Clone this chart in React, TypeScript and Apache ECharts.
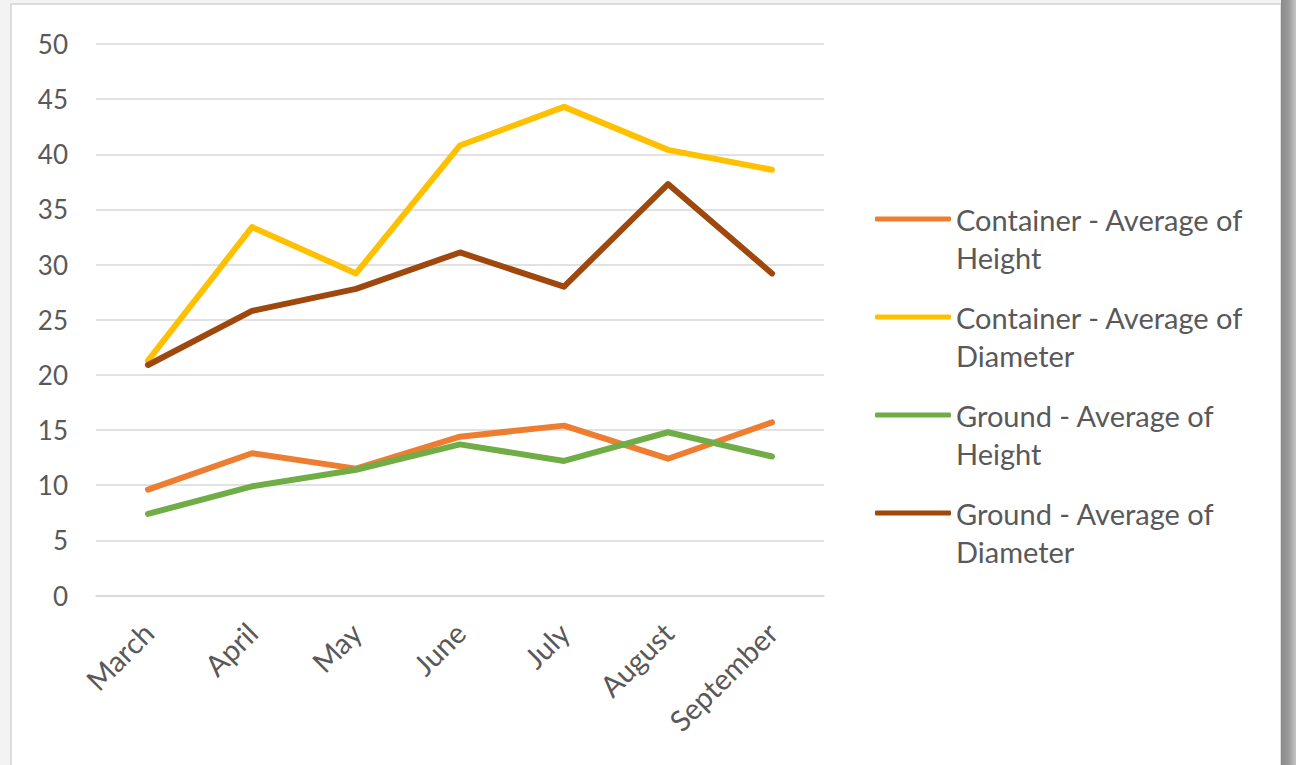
import React, { useEffect, useRef } from "react";
import * as echarts from "echarts";

const months = ["March", "April", "May", "June", "July", "August", "September"];
const containerHeight = [9.6, 12.9, 11.5, 14.4, 15.4, 12.4, 15.7];
const containerDiameter = [21.3, 33.4, 29.2, 40.8, 44.3, 40.4, 38.6];
const groundHeight = [7.4, 9.9, 11.4, 13.7, 12.2, 14.8, 12.6];
const groundDiameter = [20.9, 25.8, 27.8, 31.1, 28.0, 37.3, 29.2];

const seriesNames = [
  "Container - Average of Height",
  "Container - Average of Diameter",
  "Ground - Average of Height",
  "Ground - Average of Diameter",
];
const seriesColors = ["#ED7D31", "#FFC000", "#70AD47", "#9E480E"];
const seriesData = [containerHeight, containerDiameter, groundHeight, groundDiameter];

const FONT = "Lato";

export default function App() {
  const ref = useRef<HTMLDivElement>(null);
  useEffect(() => {
    if (!ref.current) return;
    const chart = echarts.init(ref.current, undefined, { renderer: "svg" });
    chart.setOption({
      animation: false,
      backgroundColor: "#ffffff",
      graphic: [
        { type: "rect", shape: { x: 0, y: 0, width: 1296, height: 765 }, style: { fill: "#f3f3f3" }, z: -10, silent: true },
        { type: "rect", shape: { x: 11, y: 4, width: 1270, height: 770 }, style: { fill: "#ffffff", stroke: "#d4d4d4", lineWidth: 1.5 }, z: -9, silent: true },
        {
          type: "rect",
          shape: { x: 1281, y: 0, width: 15, height: 765 },
          style: {
            fill: new echarts.graphic.LinearGradient(0, 0, 1, 0, [
              { offset: 0, color: "#8a8a8a" },
              { offset: 0.5, color: "#9a9a9a" },
              { offset: 1, color: "#c4c4c4" },
            ]),
          },
          z: -9,
          silent: true,
        },
      ],
      grid: { left: 96, right: 472, top: 44, bottom: 169.5, containLabel: false },
      legend: {
        orient: "vertical",
        left: 870,
        top: 157,
        itemWidth: 76,
        itemHeight: 5,
        itemGap: -16,
        icon: "roundRect",
        formatter: (name: string) => " \n" + name.replace(" of ", " of\n"),
        textStyle: {
          fontFamily: FONT,
          fontSize: 29,
          color: "#595959",
          lineHeight: 38,
        },
        data: seriesNames,
      },
      xAxis: {
        type: "category",
        data: months,
        boundaryGap: true,
        axisLine: { show: true, lineStyle: { color: "#d9d9d9", width: 1.5 } },
        axisTick: { show: false },
        axisLabel: {
          rotate: 45,
          margin: 32,
          fontFamily: FONT,
          fontSize: 29,
          color: "#595959",
        },
      },
      yAxis: {
        type: "value",
        min: 0,
        max: 50,
        interval: 5,
        axisLine: { show: false },
        axisTick: { show: false },
        splitLine: { lineStyle: { color: "#d9d9d9", width: 1.5 } },
        axisLabel: {
          margin: 28,
          fontFamily: FONT,
          fontSize: 26,
          color: "#595959",
        },
      },
      series: seriesNames.map((name, i) => ({
        name,
        type: "line",
        data: seriesData[i],
        symbol: "none",
        color: seriesColors[i],
        lineStyle: { width: 6, color: seriesColors[i], cap: "round", join: "round" },
      })),
    });
    return () => chart.dispose();
  }, []);
  return (
    <div
      ref={ref}
      style={{ position: "fixed", left: 0, top: 0, width: 1296, height: 765 }}
    />
  );
}
